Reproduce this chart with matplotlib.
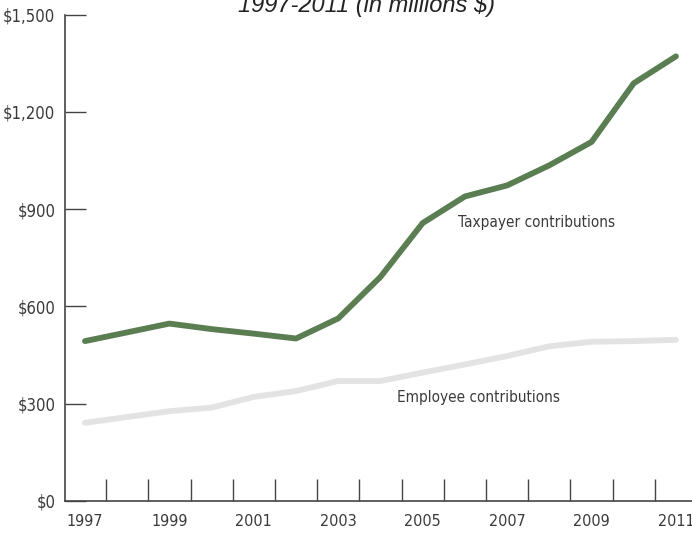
import matplotlib
matplotlib.use('Agg')
import matplotlib.pyplot as plt
from matplotlib.ticker import FixedLocator, FuncFormatter

# values (millions of dollars)
YEARS = [1997, 1998, 1999, 2000, 2001, 2002, 2003, 2004,
         2005, 2006, 2007, 2008, 2009, 2010, 2011]
TAXPAYER = [493, 520, 547, 530, 516, 501, 563, 691,
            857, 939, 973, 1035, 1107, 1288, 1371]
EMPLOYEE = [241, 259, 277, 288, 321, 339, 370, 370,
            396, 421, 447, 477, 491, 493, 497]
YEAR_LABELS = [1997, 1999, 2001, 2003, 2005, 2007, 2009, 2011]
Y_TICKS = [0, 300, 600, 900, 1200, 1500]

GREEN, GREY, INK, AXIS = '#5b7d52', '#e3e3e3', '#3a3a3a', '#444444'

plt.rcParams['font.family'] = ['DejaVu Sans']
plt.rcParams['font.stretch'] = 'condensed'

fig = plt.figure(figsize=(6.92, 5.35), dpi=100)
ax = fig.add_axes([65 / 692, 34 / 535, 627 / 692, 486.5 / 535])

ax.plot(YEARS, EMPLOYEE, color=GREY, linewidth=4.2, solid_capstyle='round',
        solid_joinstyle='round')
ax.plot(YEARS, TAXPAYER, color=GREEN, linewidth=4.2, solid_capstyle='round',
        solid_joinstyle='round')

ax.set_xlim(1996.526, 2011.38)
ax.set_ylim(0, 1500)

for side in ('top', 'right'):
    ax.spines[side].set_visible(False)
for side in ('left', 'bottom'):
    ax.spines[side].set_color(AXIS)
    ax.spines[side].set_linewidth(1.2)

# y ticks point inward, labels in dollars
ax.yaxis.set_major_locator(FixedLocator(Y_TICKS))
ax.yaxis.set_major_formatter(FuncFormatter(lambda v, p: '${:,.0f}'.format(v)))
ax.tick_params(axis='y', direction='in', length=15, width=1, color=AXIS,
               labelsize=12, labelcolor=INK, pad=7)

# x: labels on odd years, tick marks between years
ax.xaxis.set_major_locator(FixedLocator(YEAR_LABELS))
ax.xaxis.set_major_formatter(FuncFormatter(lambda v, p: '{:.0f}'.format(v)))
ax.xaxis.set_minor_locator(FixedLocator([y + 0.5 for y in YEARS[:-1]]))
ax.tick_params(axis='x', which='major', length=0, labelsize=11.5,
               labelcolor=INK, pad=9)
ax.tick_params(axis='x', which='minor', direction='in', length=16, width=1,
               color=AXIS)

ax.text(2005.84, 858, 'Taxpayer contributions', fontsize=11, color=INK,
        ha='left', va='center')
ax.text(2004.39, 318, 'Employee contributions', fontsize=11, color=INK,
        ha='left', va='center')

fig.text(366 / 692, 1 - 12 / 535, '1997-2011 (in millions $)',
         family=['Liberation Sans', 'DejaVu Sans'], style='italic',
         stretch='normal', fontsize=17, color='#222222', ha='center',
         va='baseline')

fig.savefig('out.png', dpi=100, facecolor='white')
